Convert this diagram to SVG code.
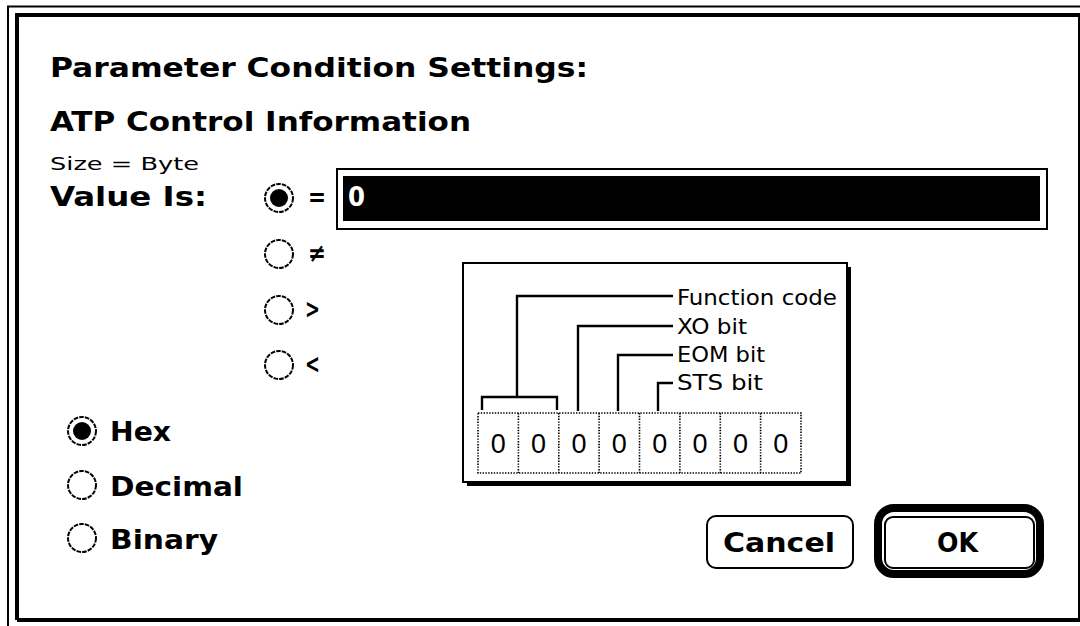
<svg xmlns="http://www.w3.org/2000/svg" width="1080" height="626" viewBox="0 0 1080 626">
  <style>
    .bold { font-family: "DejaVu Sans Condensed", "DejaVu Sans", "Liberation Sans", sans-serif; font-weight: bold; font-size: 26px; fill: #000; }
    .small { font-family: "DejaVu Sans Condensed", "DejaVu Sans", "Liberation Sans", sans-serif; font-size: 17px; fill: #000; }
    .lbl { font-family: "DejaVu Sans Condensed", "DejaVu Sans", "Liberation Sans", sans-serif; font-size: 21px; fill: #000; }
    .digit { font-family: "Liberation Sans", "DejaVu Sans", sans-serif; font-size: 28px; fill: #000; text-anchor: middle; }
    .radio { fill: #fff; stroke: #000; stroke-width: 2; stroke-dasharray: 4.6 1.1; }
    .dot { fill: #000; }
    .wire { fill: none; stroke: #000; stroke-width: 2.4; }
    .cell { fill: none; stroke: #000; stroke-width: 1.6; stroke-dasharray: 1.4 1.4; }
  </style>

  <rect x="0" y="0" width="1080" height="626" fill="#fff"/>

  <!-- dialog frame: thin outer rule and heavy inner rule -->
  <g id="frame">
    <path d="M8 626 V6.5 H1080" fill="none" stroke="#000" stroke-width="2"/>
    <path d="M17 620 V15 H1080" fill="none" stroke="#000" stroke-width="4"/>
    <path d="M17 620 H1080" fill="none" stroke="#000" stroke-width="4"/>
    <path d="M1080 15 V620" fill="none" stroke="#000" stroke-width="4"/>
  </g>

  <g id="title">
    <text class="bold" x="50" y="77" textLength="538" lengthAdjust="spacingAndGlyphs">Parameter Condition Settings:</text>
  </g>
  <g id="param-name">
    <text class="bold" x="50" y="131" textLength="421" lengthAdjust="spacingAndGlyphs">ATP Control Information</text>
    <text class="small" x="50" y="170" textLength="149" lengthAdjust="spacingAndGlyphs">Size = Byte</text>
  </g>

  <g id="value-label">
    <text class="bold" x="50" y="206" textLength="157" lengthAdjust="spacingAndGlyphs">Value Is:</text>
  </g>

  <!-- comparison operator radio buttons -->
  <g id="op-eq">
    <circle class="radio" cx="279" cy="198" r="14"/>
    <circle class="dot" cx="279" cy="198" r="9"/>
    <text class="bold" x="308" y="206" textLength="18" lengthAdjust="spacingAndGlyphs">=</text>
  </g>
  <g id="op-ne">
    <circle class="radio" cx="279" cy="254" r="14"/>
    <text class="bold" x="308" y="262" textLength="18" lengthAdjust="spacingAndGlyphs">≠</text>
  </g>
  <g id="op-gt">
    <circle class="radio" cx="279" cy="310" r="14"/>
    <text class="bold" x="305" y="318" textLength="15" lengthAdjust="spacingAndGlyphs">&gt;</text>
  </g>
  <g id="op-lt">
    <circle class="radio" cx="279" cy="365" r="14"/>
    <text class="bold" x="305" y="373" textLength="15" lengthAdjust="spacingAndGlyphs">&lt;</text>
  </g>

  <!-- value entry field -->
  <g id="value-field">
    <rect x="337" y="169" width="710" height="60" fill="#fff" stroke="#000" stroke-width="2"/>
    <rect x="343" y="176" width="697" height="45" fill="#000"/>
    <text class="bold" x="348" y="206" style="fill:#fff" textLength="17" lengthAdjust="spacingAndGlyphs">0</text>
  </g>

  <!-- number base radio buttons -->
  <g id="base-hex">
    <circle class="radio" cx="82" cy="431" r="14"/>
    <circle class="dot" cx="82" cy="431" r="9"/>
    <text class="bold" x="110" y="441" textLength="61" lengthAdjust="spacingAndGlyphs">Hex</text>
  </g>
  <g id="base-dec">
    <circle class="radio" cx="82" cy="485" r="14"/>
    <text class="bold" x="110" y="496" textLength="133" lengthAdjust="spacingAndGlyphs">Decimal</text>
  </g>
  <g id="base-bin">
    <circle class="radio" cx="82" cy="538" r="14"/>
    <text class="bold" x="110" y="549" textLength="108" lengthAdjust="spacingAndGlyphs">Binary</text>
  </g>

  <!-- bit layout panel -->
  <g id="bit-panel">
    <rect x="467" y="267" width="384" height="219" fill="#000"/>
    <rect x="463" y="263" width="384" height="219" fill="#fff" stroke="#000" stroke-width="2"/>
  </g>

  <g id="bit-cells">
    <rect class="cell" x="478" y="413" width="323" height="60"/>
    <line class="cell" x1="518.4" y1="413" x2="518.4" y2="473"/>
    <line class="cell" x1="558.8" y1="413" x2="558.8" y2="473"/>
    <line class="cell" x1="599.1" y1="413" x2="599.1" y2="473"/>
    <line class="cell" x1="639.5" y1="413" x2="639.5" y2="473"/>
    <line class="cell" x1="679.9" y1="413" x2="679.9" y2="473"/>
    <line class="cell" x1="720.3" y1="413" x2="720.3" y2="473"/>
    <line class="cell" x1="760.6" y1="413" x2="760.6" y2="473"/>
    <text class="digit" x="498.2" y="453" textLength="15" lengthAdjust="spacingAndGlyphs">0</text>
    <text class="digit" x="538.6" y="453" textLength="15" lengthAdjust="spacingAndGlyphs">0</text>
    <text class="digit" x="579" y="453" textLength="15" lengthAdjust="spacingAndGlyphs">0</text>
    <text class="digit" x="619.3" y="453" textLength="15" lengthAdjust="spacingAndGlyphs">0</text>
    <text class="digit" x="659.7" y="453" textLength="15" lengthAdjust="spacingAndGlyphs">0</text>
    <text class="digit" x="700.1" y="453" textLength="15" lengthAdjust="spacingAndGlyphs">0</text>
    <text class="digit" x="740.5" y="453" textLength="15" lengthAdjust="spacingAndGlyphs">0</text>
    <text class="digit" x="780.8" y="453" textLength="15" lengthAdjust="spacingAndGlyphs">0</text>
  </g>

  <!-- leader lines from bit fields to their names -->
  <g id="connectors">
    <path class="wire" d="M482 410 V397 H557 V410"/>
    <path class="wire" d="M517 397 V296 H673"/>
    <path class="wire" d="M578 411 V326 H673"/>
    <path class="wire" d="M618 411 V355 H673"/>
    <path class="wire" d="M658 411 V383 H673"/>
  </g>

  <g id="bit-labels">
    <text class="lbl" x="677" y="305" textLength="160" lengthAdjust="spacingAndGlyphs">Function code</text>
    <text class="lbl" x="677" y="334" textLength="70" lengthAdjust="spacingAndGlyphs">XO bit</text>
    <text class="lbl" x="677" y="362" textLength="88" lengthAdjust="spacingAndGlyphs">EOM bit</text>
    <text class="lbl" x="677" y="390" textLength="86" lengthAdjust="spacingAndGlyphs">STS bit</text>
  </g>

  <!-- buttons -->
  <g id="btn-cancel">
    <rect x="707" y="516" width="146" height="52" rx="9" fill="#fff" stroke="#000" stroke-width="2"/>
    <text class="bold" x="723" y="552" textLength="112" lengthAdjust="spacingAndGlyphs">Cancel</text>
  </g>
  <g id="btn-ok">
    <rect x="878" y="508" width="162" height="66" rx="16" fill="#fff" stroke="#000" stroke-width="8"/>
    <rect x="885" y="517" width="149" height="51" rx="8" fill="#fff" stroke="#000" stroke-width="2"/>
    <text class="bold" x="937" y="552" textLength="41" lengthAdjust="spacingAndGlyphs">OK</text>
  </g>
</svg>
